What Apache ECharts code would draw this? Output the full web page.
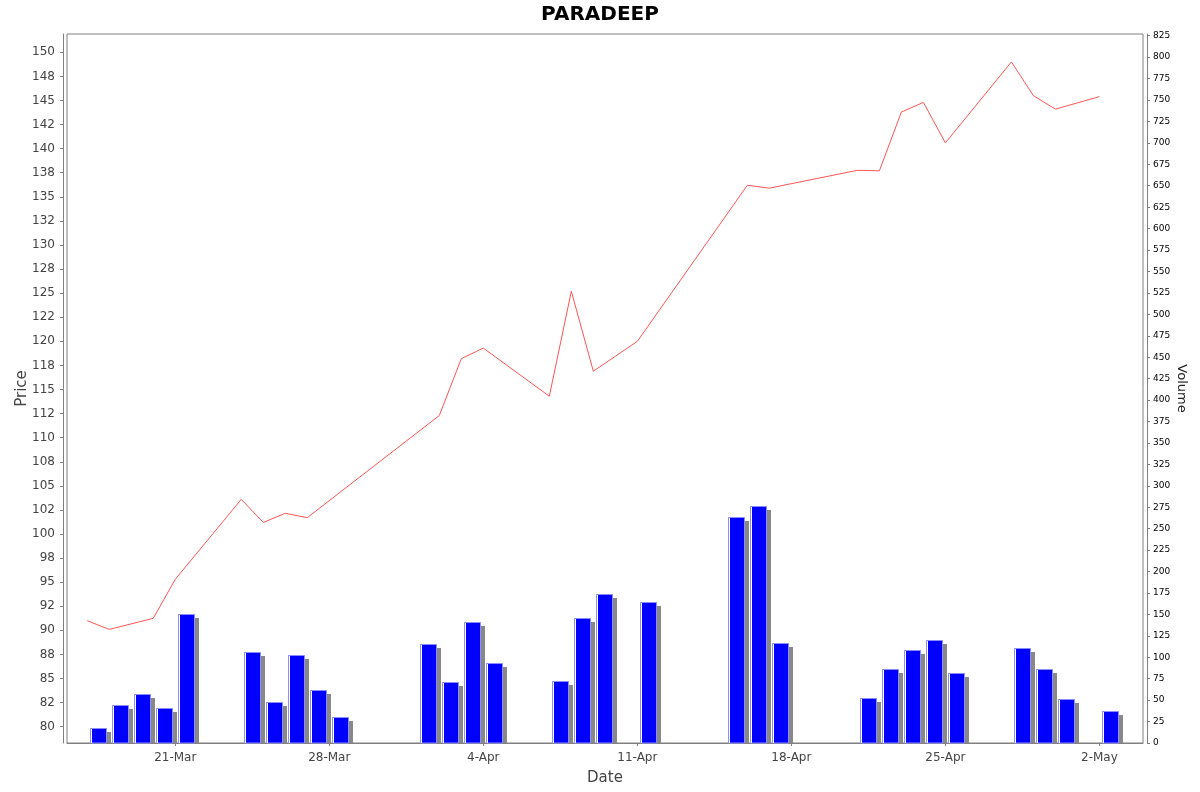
<!DOCTYPE html>
<html>
<head>
<meta charset="utf-8">
<style type="text/css">
html, body{margin:0;padding:0;background:#fff;}
#main{width:1200px;height:792px;}
</style>
<script src="https://cdn.jsdelivr.net/npm/echarts@6/dist/echarts.min.js"></script>
</head>
<body>
<div id="main"></div>
<script>
    // trading days
    var dates = ['2025-03-17','2025-03-18','2025-03-19','2025-03-20','2025-03-21',
                 '2025-03-24','2025-03-25','2025-03-26','2025-03-27','2025-03-28',
                 '2025-04-01','2025-04-02','2025-04-03','2025-04-04',
                 '2025-04-07','2025-04-08','2025-04-09','2025-04-11',
                 '2025-04-15','2025-04-16','2025-04-17',
                 '2025-04-21','2025-04-22','2025-04-23','2025-04-24','2025-04-25',
                 '2025-04-28','2025-04-29','2025-04-30','2025-05-02'];
    // closing price (null = no vertex drawn on the line)
    var prices = [91.0, 90.1, null, 91.25, 95.3,
                  103.6, 101.2, 102.15, 101.7, null,
                  null, 112.3, 118.2, 119.3,
                  114.3, 125.2, 116.9, 120.0,
                  null, 136.2, 135.9,
                  137.75, 137.7, 143.8, 144.8, 140.6,
                  149.0, 145.5, 144.1, 145.4];
    // volume
    var volumes = [17, 44, 57, 41, 150,
                   106, 48, 103, 62, 30,
                   115, 71, 141, 93,
                   72, 146, 174, 165,
                   264, 276, 117,
                   53, 86, 109, 120, 82,
                   111, 86, 51, 37];
    // tick labels
    var dateTicks = ['2025-03-21','2025-03-28','2025-04-04','2025-04-11','2025-04-18','2025-04-25','2025-05-02'];
    var priceTicks = [80, 82.5, 85, 87.5, 90, 92.5, 95, 97.5, 100, 102.5, 105, 107.5, 110, 112.5,
                      115, 117.5, 120, 122.5, 125, 127.5, 130, 132.5, 135, 137.5, 140, 142.5,
                      145, 147.5, 150];
    var volumeTicks = [0, 25, 50, 75, 100, 125, 150, 175, 200, 225, 250, 275, 300, 325, 350, 375,
                       400, 425, 450, 475, 500, 525, 550, 575, 600, 625, 650, 675, 700, 725,
                       750, 775, 800, 825];
    var months = ['Jan','Feb','Mar','Apr','May','Jun','Jul','Aug','Sep','Oct','Nov','Dec'];

    var DAY = 86400000;
    function toTime(s){
        var p = s.split('-');
        return new Date(+p[0], +p[1]-1, +p[2]).getTime();
    }
    var dateTickTimes = dateTicks.map(toTime);
    var xMin = toTime('2025-03-21') - 4.92*DAY;
    var xMax = toTime('2025-05-02') + 1.98*DAY;

    var priceData = [];
    var volumeData = [];
    for (var i = 0; i < dates.length; i++) {
        priceData.push([toTime(dates[i]), prices[i]]);
        volumeData.push([toTime(dates[i]), volumes[i]]);
    }

    // 82.5 -> 82, 87.5 -> 88 (round half even)
    function priceLabel(v){
        var f = Math.floor(v);
        if (Math.abs(v - f - 0.5) < 1e-6) return '' + (f % 2 == 0 ? f : f + 1);
        return '' + Math.round(v);
    }

    // volume bar with grey shadow
    function renderVolume(params, api){
        var t = api.value(0);
        var top = api.coord([t, api.value(1)]);
        var end = api.coord([t + DAY, 0]);
        var dayW = end[0] - top[0];
        var x0 = Math.round(top[0] + dayW*0.12);
        var w = Math.round(dayW*0.79);
        var y0 = Math.round(top[1]);
        var base = Math.round(end[1]);
        return {
            type: 'group',
            children: [
                {type:'rect', shape:{x:x0+4, y:y0+4, width:w, height:Math.max(0, base-y0-4)}, style:{fill:'#888888'}},
                {type:'rect', shape:{x:x0+0.5, y:y0+0.5, width:w-1, height:base-y0-0.5}, style:{fill:'#0000ff', stroke:'#8c8cff', lineWidth:1}},
                {type:'line', shape:{x1:x0+1.5, y1:y0+1, x2:x0+1.5, y2:base}, style:{stroke:'#ffffff', lineWidth:1}}
            ]
        };
    }

    var chart = echarts.init(document.getElementById('main'));
    var option = {
        animation: false,
        backgroundColor: '#ffffff',
        textStyle: {fontFamily: 'DejaVu Sans'},
        title: {
            text: 'PARADEEP',
            left: 'center',
            top: 0,
            textStyle: {fontSize: 20, fontWeight: 'bold', color: '#000', fontFamily: 'DejaVu Sans'}
        },
        grid: {
            left: 67, right: 57, top: 34, bottom: 49,
            show: true, borderColor: '#808080', borderWidth: 1, backgroundColor: '#ffffff'
        },
        xAxis: {
            type: 'value',
            min: xMin, max: xMax,
            offset: 4,
            name: 'Date', nameLocation: 'middle', nameGap: 24, nameMoveOverlap: false,
            nameTextStyle: {fontSize: 15, color: '#444'},
            axisLine: {lineStyle: {color: '#808080'}},
            axisTick: {customValues: dateTickTimes, length: 3, lineStyle: {color: '#808080'}},
            axisLabel: {
                customValues: dateTickTimes, fontSize: 12, color: '#444', margin: 5,
                formatter: function(v){ var d = new Date(v); return d.getDate() + '-' + months[d.getMonth()]; }
            },
            splitLine: {show: false}
        },
        yAxis: [{
            type: 'value',
            min: 78.31, max: 151.9,
            offset: 4,
            name: 'Price', nameLocation: 'middle', nameGap: 33, nameMoveOverlap: false,
            nameTextStyle: {fontSize: 15, color: '#444'},
            axisLine: {show: true, lineStyle: {color: '#808080'}},
            axisTick: {show: true, customValues: priceTicks, length: 3, lineStyle: {color: '#808080'}},
            axisLabel: {customValues: priceTicks, fontSize: 12, color: '#444', margin: 8, formatter: priceLabel},
            splitLine: {show: false}
        }, {
            type: 'value',
            min: 0, max: 827,
            offset: 4,
            position: 'right',
            name: 'Volume', nameLocation: 'middle', nameGap: 28, nameRotate: -90, nameMoveOverlap: false,
            nameTextStyle: {fontSize: 13, color: '#222'},
            axisLine: {show: true, lineStyle: {color: '#808080'}},
            axisTick: {show: true, customValues: volumeTicks, length: 3, lineStyle: {color: '#808080'}},
            axisLabel: {customValues: volumeTicks, fontSize: 9, color: '#000', margin: 6},
            splitLine: {show: false}
        }],
        series: [{
            name: 'Volume',
            type: 'custom',
            yAxisIndex: 1,
            renderItem: renderVolume,
            encode: {x: 0, y: 1},
            data: volumeData,
            z: 2
        }, {
            name: 'Price',
            type: 'line',
            yAxisIndex: 0,
            data: priceData,
            connectNulls: true,
            showSymbol: false,
            symbol: 'none',
            lineStyle: {color: '#ff5555', width: 1},
            itemStyle: {color: '#ff5555'},
            z: 3
        }]
    };
    chart.setOption(option);
</script>
</body>
</html>
